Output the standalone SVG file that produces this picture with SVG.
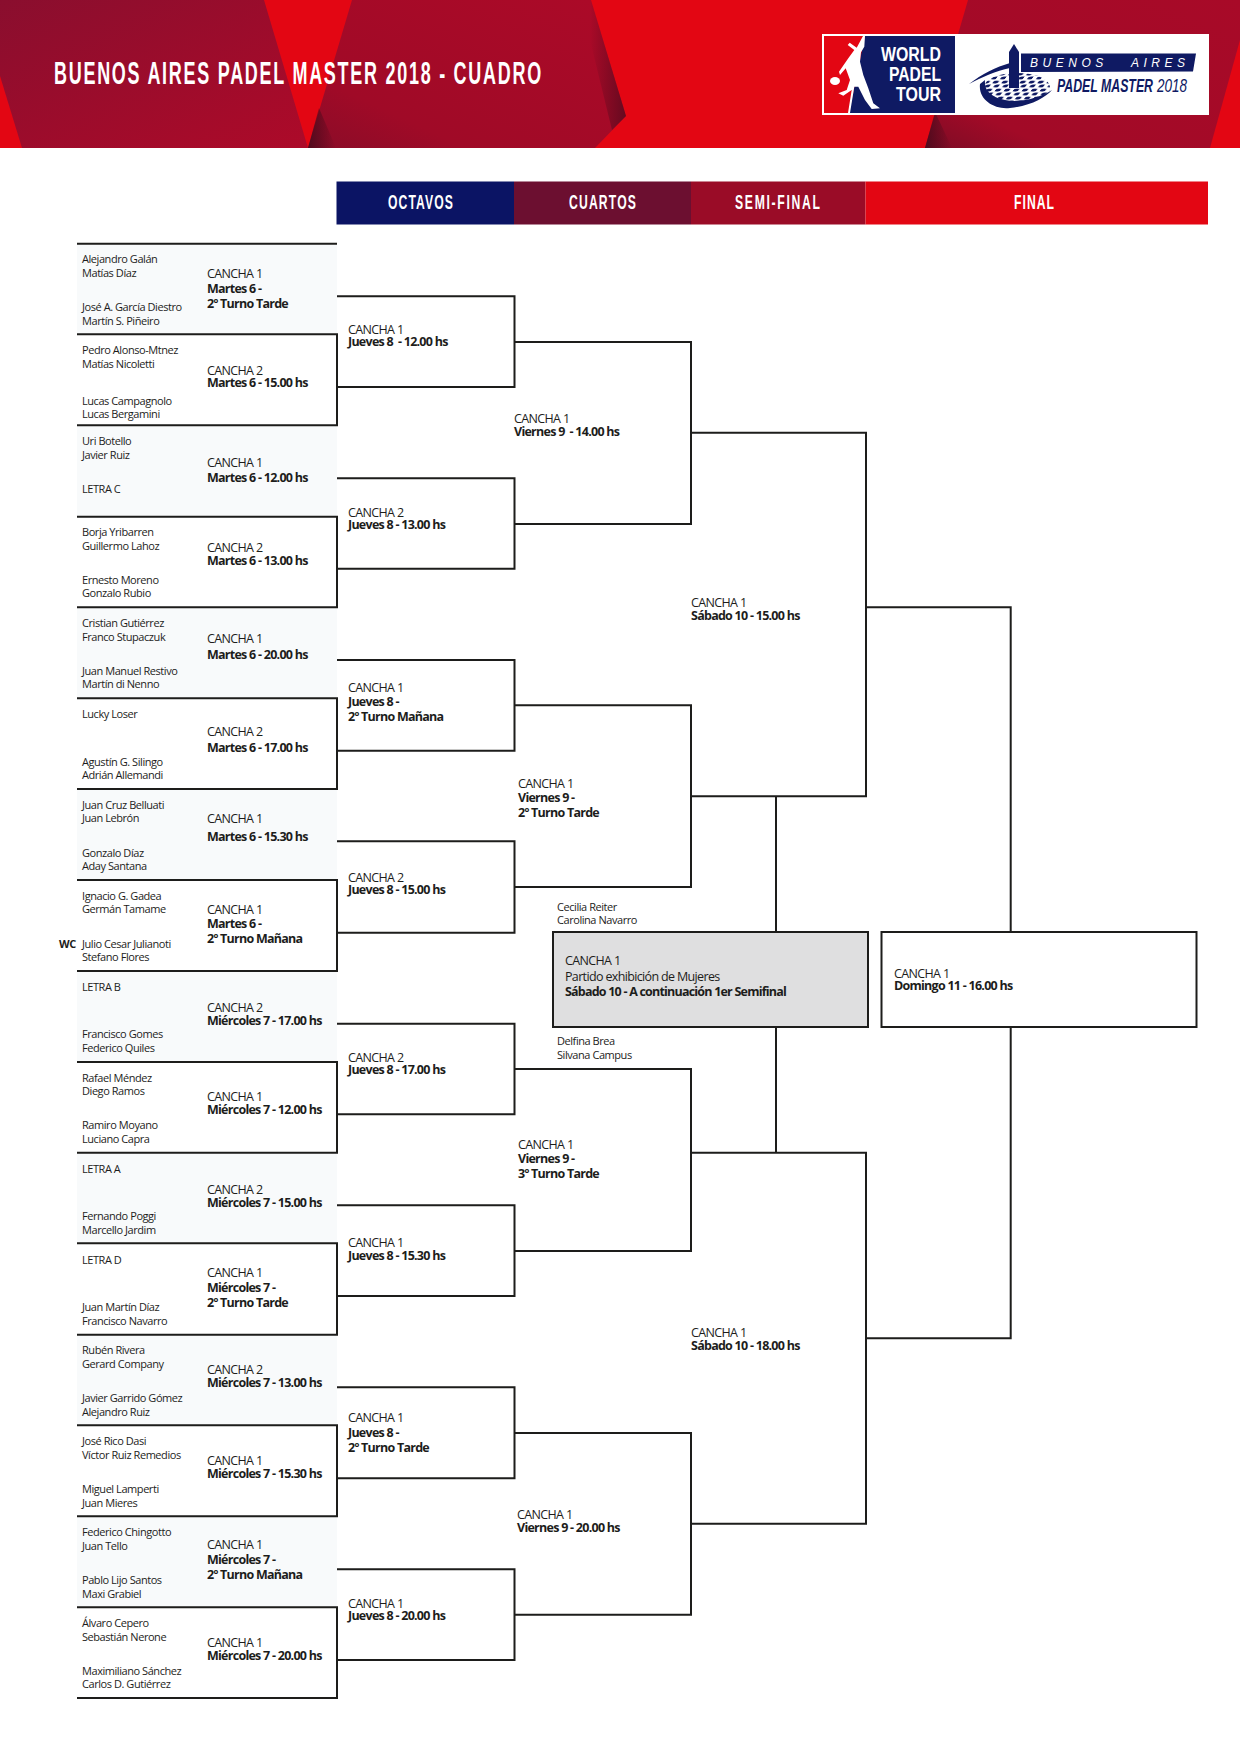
<svg xmlns="http://www.w3.org/2000/svg" width="1241" height="1754" viewBox="0 0 1241 1754">
<style>
text{font-family:"Open Sans","Noto Sans","Liberation Sans",sans-serif;fill:#1d1d1b}
.n{font-size:11px;letter-spacing:-.44px}
.c{font-size:12.5px;letter-spacing:-.65px}
.b{font-size:12.5px;font-weight:700;letter-spacing:-.74px}
.h{font-family:"Liberation Sans",sans-serif;font-weight:700;fill:#fff}
.row{fill:#f8fafb}
.l{fill:none;stroke:#1d1d1b;stroke-width:2}
</style>
<defs>
<linearGradient id="g1" x1="0" y1="0" x2="1" y2="1"><stop offset="0" stop-color="#8a0e2e"/><stop offset="1" stop-color="#ad0a29"/></linearGradient>
<linearGradient id="g2" x1="0" y1="1" x2="1" y2="0"><stop offset="0" stop-color="#8a0c28"/><stop offset=".25" stop-color="#a00a27"/><stop offset="1" stop-color="#ac0a28"/></linearGradient>
<linearGradient id="g3" x1="0" y1="1" x2="1" y2="0"><stop offset="0" stop-color="#7c0c25"/><stop offset=".2" stop-color="#a20a27"/><stop offset="1" stop-color="#a80a28"/></linearGradient>
<linearGradient id="dk" x1="0" y1="0" x2="1" y2="0"><stop offset="0" stop-color="#4a0a1c" stop-opacity=".9"/><stop offset="1" stop-color="#4a0a1c" stop-opacity="0"/></linearGradient>
<linearGradient id="dr" x1="0" y1="0" x2="1" y2="0"><stop offset="0" stop-color="#4a0a1c" stop-opacity="0"/><stop offset="1" stop-color="#4a0a1c" stop-opacity=".7"/></linearGradient>
<pattern id="dots" width="9" height="8" patternUnits="userSpaceOnUse" patternTransform="skewX(-40)"><ellipse cx="2.5" cy="2" rx="2.9" ry="1.5" fill="#0f1a63"/><ellipse cx="7" cy="6" rx="2.9" ry="1.5" fill="#0f1a63"/></pattern>
</defs>
<rect width="1241" height="1754" fill="#fff"/>
<g id="header">
<rect width="1240" height="148" fill="#e30613"/>
<polygon points="0,0 264,0 308,148 22,148 0,76" fill="url(#g1)"/>
<polygon points="352,0 591,0 626,116 595,148 308,148" fill="url(#g2)"/>
<polygon points="591,0 626,116 612,130 590,40" fill="url(#dr)"/>
<polygon points="308,148 336,148 319,108" fill="url(#dk)"/>
<polygon points="968,0 1240,0 1240,40 1210,148 925,148" fill="url(#g3)"/>
<polygon points="925,148 952,148 935,112" fill="url(#dk)"/>
<text class="h" transform="translate(54,84) scale(.58,1)" font-size="31" textLength="840">BUENOS AIRES PADEL MASTER 2018 - CUADRO</text>
</g>
<g id="logo">
<rect x="822" y="34" width="387" height="81" fill="#fff"/>
<rect x="824" y="36" width="131" height="77" fill="#e30613"/>
<polygon points="865,36 955,36 955,113 849,113" fill="#0f1a63"/>
<path d="M863,36 L865,36 L864.3,46.7 L861,52.3 L860,61.7 L863.3,75 L868.3,88.3 L873.3,103.3 L880,108.3 L871.7,109 L865,100 L858.3,86.7 L854.3,86.7 L850,113 L848,113 L851.7,90 L843.3,95.7 L838.3,93.3 L846.7,90 L850,80 L845.7,68.3 L840,75 L839,71.7 L848.3,58.3 L854.3,50 L847.7,45 L849.7,42.7 L856.7,47.7 Z" fill="#fff"/>
<ellipse cx="835" cy="81" rx="5" ry="4" fill="#fff"/>
<text class="h" x="881" y="61" font-size="21" textLength="60" lengthAdjust="spacingAndGlyphs">WORLD</text>
<text class="h" x="889" y="81" font-size="21" textLength="52" lengthAdjust="spacingAndGlyphs">PADEL</text>
<text class="h" x="896" y="101" font-size="21" textLength="45" lengthAdjust="spacingAndGlyphs">TOUR</text>
<path d="M969,84 C982,74 996,67 1010,63 L1010,68 C996,71 982,77 969,84 Z" fill="#0f1a63"/>
<ellipse cx="1017" cy="87" rx="33" ry="14" fill="url(#dots)"/>
<path d="M980,84 C978,100 995,110 1010,108 C1030,106 1045,98 1052,90 C1040,98 1020,103 1005,100 C990,97 984,90 985,80 Z" fill="#0f1a63"/>
<path d="M1014,44 L1019,52 L1019,88 L1009,88 L1009,52 Z" fill="#0f1a63"/>
<polygon points="1021,53.5 1196,53.5 1193,71.5 1021,72" fill="#0f1a63"/>
<text x="1030" y="67" font-size="12" font-style="italic" style="font-family:'Liberation Sans',sans-serif;fill:#fff" textLength="155" xml:space="preserve">BUENOS   AIRES</text>
<text x="1057" y="92" font-size="19" font-style="italic" font-weight="700" style="font-family:'Liberation Sans',sans-serif;fill:#0f1a63" textLength="96" lengthAdjust="spacingAndGlyphs">PADEL MASTER</text>
<text x="1157" y="92" font-size="19" font-style="italic" style="font-family:'Liberation Sans',sans-serif;fill:#0f1a63" textLength="30" lengthAdjust="spacingAndGlyphs">2018</text>
</g>
<g id="round-headers">
<g id="h-octavos"><rect x="336.5" y="181.5" width="177.5" height="43" fill="#0b1464"/><text class="h" transform="translate(388,209) scale(.58,1)" font-size="21" textLength="112">OCTAVOS</text></g>
<g id="h-cuartos"><rect x="514" y="181.5" width="177" height="43" fill="#6c0f30"/><text class="h" transform="translate(569,209) scale(.58,1)" font-size="21" textLength="115.5">CUARTOS</text></g>
<g id="h-semi"><rect x="691" y="181.5" width="174.5" height="43" fill="#9a0c27"/><text class="h" transform="translate(735,209) scale(.58,1)" font-size="21" textLength="146.5">SEMI-FINAL</text></g>
<g id="h-final"><rect x="865.5" y="181.5" width="342.5" height="43" fill="#e30613"/><text class="h" transform="translate(1014,209) scale(.58,1)" font-size="21" textLength="69">FINAL</text></g>
</g>
<g id="r0"><rect class="row" x="77" y="244" width="260" height="90"/><text class="n" x="82" y="263">Alejandro Galán</text><text class="n" x="82" y="277">Matías Díaz</text><text class="n" x="82" y="311">José A. García Diestro</text><text class="n" x="82" y="325">Martín S. Piñeiro</text><text class="c" x="207" y="278">CANCHA 1</text><text class="b" x="207" y="293">Martes 6 -</text><text class="b" x="207" y="308">2º Turno Tarde</text></g>
<g id="r1"><text class="n" x="82" y="354">Pedro Alonso-Mtnez</text><text class="n" x="82" y="368">Matías Nicoletti</text><text class="n" x="82" y="405">Lucas Campagnolo</text><text class="n" x="82" y="418">Lucas Bergamini</text><text class="c" x="207" y="375">CANCHA 2</text><text class="b" x="207" y="387">Martes 6 - 15.00 hs</text></g>
<g id="r2"><rect class="row" x="77" y="426" width="260" height="90"/><text class="n" x="82" y="445">Uri Botello</text><text class="n" x="82" y="459">Javier Ruiz</text><text class="n" x="82" y="493">LETRA C</text><text class="c" x="207" y="467">CANCHA 1</text><text class="b" x="207" y="482">Martes 6 - 12.00 hs</text></g>
<g id="r3"><text class="n" x="82" y="536">Borja Yribarren</text><text class="n" x="82" y="550">Guillermo Lahoz</text><text class="n" x="82" y="584">Ernesto Moreno</text><text class="n" x="82" y="597">Gonzalo Rubio</text><text class="c" x="207" y="552">CANCHA 2</text><text class="b" x="207" y="565">Martes 6 - 13.00 hs</text></g>
<g id="r4"><rect class="row" x="77" y="608" width="260" height="90"/><text class="n" x="82" y="627">Cristian Gutiérrez</text><text class="n" x="82" y="641">Franco Stupaczuk</text><text class="n" x="82" y="675">Juan Manuel Restivo</text><text class="n" x="82" y="688">Martín di Nenno</text><text class="c" x="207" y="643">CANCHA 1</text><text class="b" x="207" y="659">Martes 6 - 20.00 hs</text></g>
<g id="r5"><text class="n" x="82" y="718">Lucky Loser</text><text class="n" x="82" y="766">Agustín G. Silingo</text><text class="n" x="82" y="779">Adrián Allemandi</text><text class="c" x="207" y="736">CANCHA 2</text><text class="b" x="207" y="752">Martes 6 - 17.00 hs</text></g>
<g id="r6"><rect class="row" x="77" y="790" width="260" height="90"/><text class="n" x="82" y="809">Juan Cruz Belluati</text><text class="n" x="82" y="822">Juan Lebrón</text><text class="n" x="82" y="857">Gonzalo Díaz</text><text class="n" x="82" y="870">Aday Santana</text><text class="c" x="207" y="823">CANCHA 1</text><text class="b" x="207" y="841">Martes 6 - 15.30 hs</text></g>
<g id="r7"><text class="n" x="82" y="900">Ignacio G. Gadea</text><text class="n" x="82" y="913">Germán Tamame</text><text class="n" x="59" y="948" font-weight="700">WC</text><text class="n" x="82" y="948">Julio Cesar Julianoti</text><text class="n" x="82" y="961">Stefano Flores</text><text class="c" x="207" y="914">CANCHA 1</text><text class="b" x="207" y="928">Martes 6 -</text><text class="b" x="207" y="943">2º Turno Mañana</text></g>
<g id="r8"><rect class="row" x="77" y="972" width="260" height="90"/><text class="n" x="82" y="991">LETRA B</text><text class="n" x="82" y="1038">Francisco Gomes</text><text class="n" x="82" y="1052">Federico Quiles</text><text class="c" x="207" y="1012">CANCHA 2</text><text class="b" x="207" y="1025">Miércoles 7 - 17.00 hs</text></g>
<g id="r9"><text class="n" x="82" y="1082">Rafael Méndez</text><text class="n" x="82" y="1095">Diego Ramos</text><text class="n" x="82" y="1129">Ramiro Moyano</text><text class="n" x="82" y="1143">Luciano Capra</text><text class="c" x="207" y="1101">CANCHA 1</text><text class="b" x="207" y="1114">Miércoles 7 - 12.00 hs</text></g>
<g id="r10"><rect class="row" x="77" y="1154" width="260" height="90"/><text class="n" x="82" y="1173">LETRA A</text><text class="n" x="82" y="1220">Fernando Poggi</text><text class="n" x="82" y="1234">Marcello Jardim</text><text class="c" x="207" y="1194">CANCHA 2</text><text class="b" x="207" y="1207">Miércoles 7 - 15.00 hs</text></g>
<g id="r11"><text class="n" x="82" y="1264">LETRA D</text><text class="n" x="82" y="1311">Juan Martín Díaz</text><text class="n" x="82" y="1325">Francisco Navarro</text><text class="c" x="207" y="1277">CANCHA 1</text><text class="b" x="207" y="1292">Miércoles 7 -</text><text class="b" x="207" y="1307">2º Turno Tarde</text></g>
<g id="r12"><rect class="row" x="77" y="1335" width="260" height="90"/><text class="n" x="82" y="1354">Rubén Rivera</text><text class="n" x="82" y="1368">Gerard Company</text><text class="n" x="82" y="1402">Javier Garrido Gómez</text><text class="n" x="82" y="1416">Alejandro Ruiz</text><text class="c" x="207" y="1374">CANCHA 2</text><text class="b" x="207" y="1387">Miércoles 7 - 13.00 hs</text></g>
<g id="r13"><text class="n" x="82" y="1445">José Rico Dasi</text><text class="n" x="82" y="1459">Víctor Ruiz Remedios</text><text class="n" x="82" y="1493">Miguel Lamperti</text><text class="n" x="82" y="1507">Juan Mieres</text><text class="c" x="207" y="1465">CANCHA 1</text><text class="b" x="207" y="1478">Miércoles 7 - 15.30 hs</text></g>
<g id="r14"><rect class="row" x="77" y="1517" width="260" height="90"/><text class="n" x="82" y="1536">Federico Chingotto</text><text class="n" x="82" y="1550">Juan Tello</text><text class="n" x="82" y="1584">Pablo Lijo Santos</text><text class="n" x="82" y="1598">Maxi Grabiel</text><text class="c" x="207" y="1549">CANCHA 1</text><text class="b" x="207" y="1564">Miércoles 7 -</text><text class="b" x="207" y="1579">2º Turno Mañana</text></g>
<g id="r15"><text class="n" x="82" y="1627">Álvaro Cepero</text><text class="n" x="82" y="1641">Sebastián Nerone</text><text class="n" x="82" y="1675">Maximiliano Sánchez</text><text class="n" x="82" y="1688">Carlos D. Gutiérrez</text><text class="c" x="207" y="1647">CANCHA 1</text><text class="b" x="207" y="1660">Miércoles 7 - 20.00 hs</text></g>
<g id="connectors">
<path class="l" d="M77,243.7H337M77,334.3H337V425.3H77M77,516.7H337V607.3H77M77,698.3H337V789H77M77,880H337V971H77M77,1062H337V1152.7H77M77,1243.3H337V1334.7H77M77,1425.3H337V1516.3H77M77,1607.3H337V1698H77"/>
<path class="l" d="M337,296.3H514.5V387H337M337,478.3H514.5V568.7H337M337,660H514.5V750.7H337M337,841.3H514.5V932.7H337M337,1023.7H514.5V1114.3H337M337,1205.3H514.5V1296H337M337,1387.3H514.5V1478.3H337M337,1569.3H514.5V1660H337"/>
<path class="l" d="M514.5,342H691V524H514.5M514.5,705.3H691V887H514.5M514.5,1069H691V1251H514.5M514.5,1433H691V1614.7H514.5"/>
<path class="l" d="M691,432.7H866V796.3H691M691,1152.7H866V1523.7H691"/>
<path class="l" d="M866,607.3H1010.7V932M866,1338.3H1010.7V1027M776,796.3V932M776,1027V1152.7"/>
</g>
<g id="o0"><text class="c" x="348" y="334">CANCHA 1</text><text class="b" x="348" y="346" xml:space="preserve">Jueves 8  - 12.00 hs</text></g>
<g id="o1"><text class="c" x="348" y="517">CANCHA 2</text><text class="b" x="348" y="529">Jueves 8 - 13.00 hs</text></g>
<g id="o2"><text class="c" x="348" y="692">CANCHA 1</text><text class="b" x="348" y="706">Jueves 8 -</text><text class="b" x="348" y="721">2º Turno Mañana</text></g>
<g id="o3"><text class="c" x="348" y="882">CANCHA 2</text><text class="b" x="348" y="894">Jueves 8 - 15.00 hs</text></g>
<g id="o4"><text class="c" x="348" y="1062">CANCHA 2</text><text class="b" x="348" y="1074">Jueves 8 - 17.00 hs</text></g>
<g id="o5"><text class="c" x="348" y="1247">CANCHA 1</text><text class="b" x="348" y="1260">Jueves 8 - 15.30 hs</text></g>
<g id="o6"><text class="c" x="348" y="1422">CANCHA 1</text><text class="b" x="348" y="1437">Jueves 8 -</text><text class="b" x="348" y="1452">2º Turno Tarde</text></g>
<g id="o7"><text class="c" x="348" y="1608">CANCHA 1</text><text class="b" x="348" y="1620">Jueves 8 - 20.00 hs</text></g>
<g id="q0"><text class="c" x="514" y="423">CANCHA 1</text><text class="b" x="514" y="436" xml:space="preserve">Viernes 9  - 14.00 hs</text></g>
<g id="q1"><text class="c" x="518" y="788">CANCHA 1</text><text class="b" x="518" y="802">Viernes 9 -</text><text class="b" x="518" y="817">2º Turno Tarde</text></g>
<g id="q2"><text class="c" x="518" y="1149">CANCHA 1</text><text class="b" x="518" y="1163">Viernes 9 -</text><text class="b" x="518" y="1178">3º Turno Tarde</text></g>
<g id="q3"><text class="c" x="517" y="1519">CANCHA 1</text><text class="b" x="517" y="1532">Viernes 9 - 20.00 hs</text></g>
<g id="s0"><text class="c" x="691" y="607">CANCHA 1</text><text class="b" x="691" y="620">Sábado 10 - 15.00 hs</text></g>
<g id="s1"><text class="c" x="691" y="1337">CANCHA 1</text><text class="b" x="691" y="1350">Sábado 10 - 18.00 hs</text></g>
<g id="women-match">
<rect x="553" y="932" width="315" height="95" fill="#dfdfe0" stroke="#1d1d1b" stroke-width="2"/>
<text class="n" x="557" y="911">Cecilia Reiter</text><text class="n" x="557" y="924">Carolina Navarro</text>
<text class="c" x="565" y="965">CANCHA 1</text><text class="c" x="565" y="981">Partido exhibición de Mujeres</text><text class="b" x="565" y="996" textLength="221">Sábado 10 - A continuación 1er Semifinal</text>
<text class="n" x="557" y="1045">Delfina Brea</text><text class="n" x="557" y="1059">Silvana Campus</text>
</g>
<g id="final">
<rect x="881.5" y="932" width="315" height="95" fill="#fff" stroke="#1d1d1b" stroke-width="2"/>
<text class="c" x="894" y="978">CANCHA 1</text><text class="b" x="894" y="990">Domingo 11 - 16.00 hs</text>
</g>
</svg>
